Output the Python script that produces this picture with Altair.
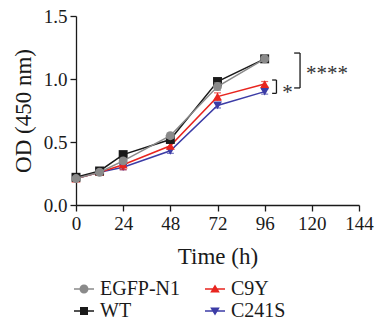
import altair as alt
import pandas as pd

# ---- data ----
times = [0, 12, 24, 48, 72, 96]
series_names = ["EGFP-N1", "WT", "C9Y", "C241S"]
egfp = [0.21, 0.26, 0.35, 0.55, 0.94, 1.16]
wt = [0.22, 0.27, 0.40, 0.52, 0.98, 1.16]
c9y = [0.21, 0.26, 0.32, 0.47, 0.86, 0.96]
c241s = [0.21, 0.26, 0.30, 0.43, 0.79, 0.90]
egfp_err = [0.01, 0.01, 0.02, 0.02, 0.03, 0.02]
wt_err = [0.01, 0.01, 0.01, 0.02, 0.02, 0.02]
c9y_err = [0.01, 0.01, 0.04, 0.02, 0.03, 0.02]
c241s_err = [0.01, 0.01, 0.02, 0.02, 0.02, 0.02]

colors = ["#8a8a8a", "#1a1a1a", "#e8251f", "#3c3ca6"]
shapes = ["circle", "square", "triangle-up", "triangle-down"]
# legend symbols: line segment plus marker (custom paths)
legend_paths = [
    "M-1,-0.08H1V0.08H-1Z M-0.45,0A0.45,0.45,0,1,1,0.45,0A0.45,0.45,0,1,1,-0.45,0Z",
    "M-1,-0.08H1V0.08H-1Z M-0.4,-0.4H0.4V0.4H-0.4Z",
    "M-1,-0.08H1V0.08H-1Z M0,-0.46L0.48,0.36L-0.48,0.36Z",
    "M-1,-0.08H1V0.08H-1Z M-0.48,-0.36L0.48,-0.36L0,0.46Z",
]

x_ticks = [0, 24, 48, 72, 96, 120, 144]
y_ticks = [0.0, 0.5, 1.0, 1.5]

# significance brackets (data units)
br_x_outer = [114.0, 102.0]
br_x_inner = [111.0, 99.8]
br_y_top = [1.206, 0.992]
br_y_bot = [0.929, 0.886]
sig_labels = ["****", "*"]
sig_x = [117.0, 105.0]
sig_y = [1.04, 0.89]

FONT = "Liberation Serif"

rows = []
for name, vals, errs in [("EGFP-N1", egfp, egfp_err), ("WT", wt, wt_err),
                         ("C9Y", c9y, c9y_err), ("C241S", c241s, c241s_err)]:
    for t, v, e in zip(times, vals, errs):
        rows.append({"series": name, "time": t, "od": v, "lo": v - e, "hi": v + e})
df = pd.DataFrame(rows)

br = pd.DataFrame({"xo": br_x_outer, "xi": br_x_inner, "yt": br_y_top, "yb": br_y_bot})
sig = pd.DataFrame({"label": sig_labels, "x": sig_x, "y": sig_y})

xscale = alt.Scale(domain=[0, 144], nice=False)
yscale = alt.Scale(domain=[0, 1.5], nice=False)
cscale = alt.Scale(domain=series_names, range=colors)

xenc = alt.X("time:Q", scale=xscale,
             axis=alt.Axis(values=x_ticks, title="Time (h)", grid=False))
yenc = alt.Y("od:Q", scale=yscale,
             axis=alt.Axis(values=y_ticks, format=".1f", title="OD (450 nm)", grid=False))

layers = []
for name in ["C241S", "C9Y", "WT", "EGFP-N1"]:
    sub = df[df["series"] == name]
    base = alt.Chart(sub)
    err = base.mark_errorbar(ticks=alt.TickConfig(size=7, thickness=1.2), thickness=1.2).encode(
        x=xenc,
        y=alt.Y("lo:Q", scale=yscale, title="OD (450 nm)"),
        y2="hi:Q",
        color=alt.Color("series:N", scale=cscale, legend=None),
    )
    line = base.mark_line(strokeWidth=1.5).encode(
        x=xenc, y=yenc,
        color=alt.Color("series:N", scale=cscale, legend=None),
    )
    pts = base.mark_point(filled=True, opacity=1, size=80).encode(
        x=xenc, y=yenc,
        color=alt.Color("series:N", scale=cscale, legend=None),
        shape=alt.Shape("series:N", scale=alt.Scale(domain=series_names, range=shapes), legend=None),
    )
    layers += [err, line, pts]

# legend-only layer: its own marks are placed far outside the view
legend_layer = alt.Chart(df).mark_point(filled=True, opacity=1, size=400).encode(
    x=alt.value(-3000), y=alt.value(-3000),
    color=alt.Color("series:N", scale=alt.Scale(domain=series_names, range=colors),
                    legend=alt.Legend(title=None, orient="none", legendX=-2, legendY=263,
                                      columns=2, columnPadding=24, rowPadding=2,
                                      symbolSize=400, symbolStrokeWidth=0,
                                      labelOffset=6, labelFontSize=20, labelFont=FONT,
                                      labelColor="#1a1a1a", padding=0)),
    shape=alt.Shape("series:N", scale=alt.Scale(domain=series_names, range=legend_paths),
                    legend=alt.Legend(title=None)),
)

vrule = alt.Chart(br).mark_rule(color="#1a1a1a", strokeWidth=1.3).encode(
    x=alt.X("xo:Q", scale=xscale), y=alt.Y("yt:Q", scale=yscale), y2="yb:Q")
htop = alt.Chart(br).mark_rule(color="#1a1a1a", strokeWidth=1.3).encode(
    x=alt.X("xi:Q", scale=xscale), x2="xo:Q", y=alt.Y("yt:Q", scale=yscale))
hbot = alt.Chart(br).mark_rule(color="#1a1a1a", strokeWidth=1.3).encode(
    x=alt.X("xi:Q", scale=xscale), x2="xo:Q", y=alt.Y("yb:Q", scale=yscale))
txt = alt.Chart(sig).mark_text(align="left", baseline="middle", font=FONT, fontSize=21,
                               color="#333333").encode(
    x=alt.X("x:Q", scale=xscale), y=alt.Y("y:Q", scale=yscale), text="label:N")

chart = alt.layer(*layers, legend_layer, vrule, htop, hbot, txt).resolve_scale(
    color="independent", shape="independent"
).properties(
    width=283, height=189,
    autosize=alt.AutoSizeParams(type="none"),
    padding={"left": 76, "top": 16, "right": 17, "bottom": 120},
).configure_view(stroke=None).configure_axis(
    domainColor="#1a1a1a", domainWidth=1.3, tickColor="#1a1a1a", tickWidth=1.3, tickSize=6,
    labelFont=FONT, labelFontSize=19, labelColor="#1a1a1a", labelPadding=3,
    titleFont=FONT, titleFontSize=23, titleFontWeight="normal", titleColor="#1a1a1a",
).configure_axisX(titlePadding=12, labelFlush=False).configure_axisY(titlePadding=8)

chart.save("out.html", embed_options={"renderer": "svg", "actions": False})
